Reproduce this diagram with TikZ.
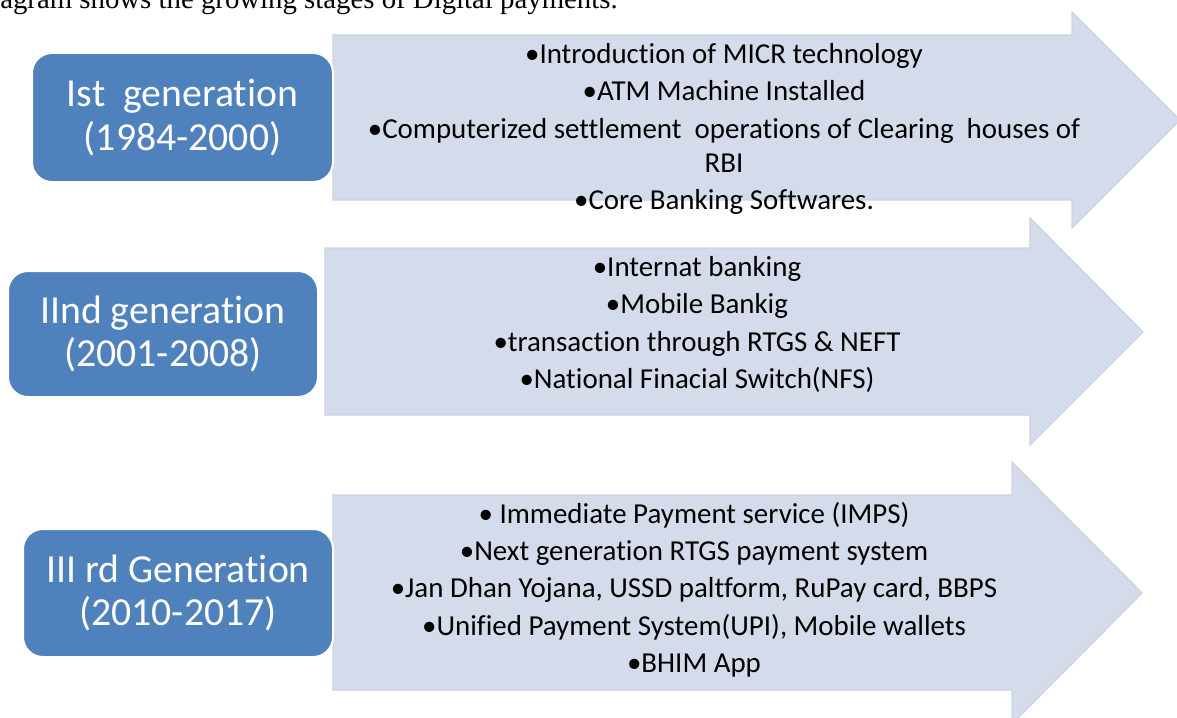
\documentclass[tikz,border=0pt]{standalone}
\usepackage{fontspec}
\setmainfont{Carlito}[Ligatures=NoCommon]
\newfontfamily\notefont{Liberation Serif}
\usepackage{tikz}
\usetikzlibrary{positioning}

\definecolor{genblue}{RGB}{79,129,189}
\definecolor{arrowfill}{RGB}{212,219,234}
\definecolor{arrowline}{RGB}{203,211,228}

\begin{document}
\begin{tikzpicture}[x=0.75pt,y=-0.75pt,
                    stage arrow/.style={fill=arrowfill,draw=arrowline,line width=1pt,line join=miter},
                    gen node/.style={rectangle,rounded corners=15pt,draw=white,line width=1.5pt,
                                     fill=genblue,text=white,align=center,minimum height=96pt,
                                     font=\fontsize{29.8}{32.5}\selectfont},
                    list node/.style={align=center,inner sep=0pt,font=\fontsize{21.7}{28}\selectfont}]

 \useasboundingbox (0,0) rectangle (1177,717);
 \clip (0,0) rectangle (1177,717);

%Line of text above the figure

 \node[anchor=base east,inner sep=0pt,font=\notefont\fontsize{21.6}{24}\selectfont] (Note) at (618,9)
   {diagram shows the growing stages of Digital payments.};

%DRAWING arrows

 \draw[stage arrow] (333,35)--(1072,35)--(1072,12)--(1180,120)--(1072,228)--(1072,200)--(333,200)--cycle;
 \draw[stage arrow] (325,248)--(1030,248)--(1030,218)--(1143,332)--(1030,445)--(1030,415)--(325,415)--cycle;
 \draw[stage arrow] (333,495)--(1012,495)--(1012,462)--(1142,593)--(1012,724)--(1012,690)--(333,690)--cycle;

%Generations

 \node[gen node,minimum width=225.75pt,minimum height=96.75pt] (Gen1) at (182.5,117.5)
   {Ist~~generation\\(1984-2000)};
 \node[gen node,minimum width=232.5pt,minimum height=94.5pt] (Gen2) at (163,334)
   {IInd generation\\(2001-2008)};
 \node[gen node,minimum width=232.5pt] (Gen3) at (178,593)
   {III rd Generation\\(2010-2017)};

%Inserting the lists

 \node[list node] (List1) at (724,129)
   {•Introduction of MICR technology\\
    •ATM Machine Installed\\
    •Computerized settlement~~operations of Clearing~~houses of\\[-2.5pt]
    RBI\\
    •Core Banking Softwares.};

 \node[list node] (List2) at (697,324.5)
   {•Internat banking\\
    •Mobile Bankig\\
    •transaction through RTGS \& NEFT\\
    •National Finacial Switch(NFS)};

 \node[list node] (List3) at (694,589.5)
   {• Immediate Payment service (IMPS)\\
    •Next generation RTGS payment system\\
    •Jan Dhan Yojana, USSD paltform, RuPay card, BBPS\\
    •Unified Payment System(UPI), Mobile wallets\\
    •BHIM App};

\end{tikzpicture}
\end{document}
